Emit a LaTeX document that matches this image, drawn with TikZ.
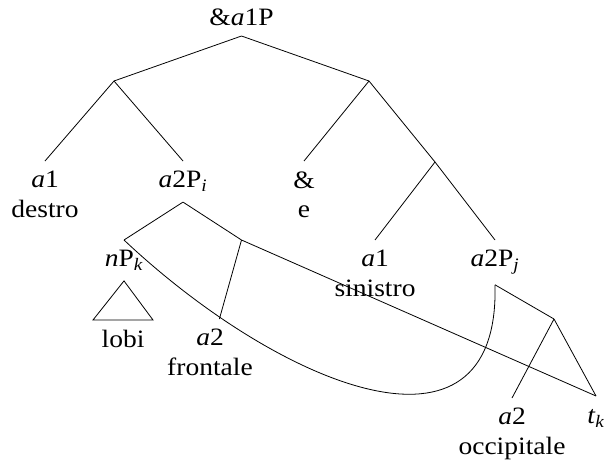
\documentclass[tikz,border=0pt]{standalone}
\usepackage{fontspec}
\setmainfont[FakeStretch=1.1]{Liberation Serif}
\newcommand{\idx}[1]{\textsubscript{\textit{#1}}}

\begin{document}
\begin{tikzpicture}
        [x=1pt,y=-1pt,line width=0.8pt,every node/.style={align=center,inner xsep=1pt,inner ysep=10pt,font=\fontsize{25}{29.5}\selectfont}]

        \useasboundingbox (0,0) rectangle (604,463);

        % branching points
        \node[anchor=south] (root) at (241.5,36) {\&\textit{a}1P};
        \coordinate (b1) at (114,81);
        \coordinate (b2) at (369,81);
        \coordinate (b3) at (435,162);
        \coordinate (c1) at (241.5,240);
        \coordinate (c2) at (554,319);

        % words
        \node[anchor=north] (destro) at (45,161) {\textit{a}1\\destro};
        \node[anchor=north] (ai) at (183,161) {\textit{a}2P\idx{i}};
        \node[anchor=north] (e) at (304,161) {\&\\e};
        \node[anchor=north] (sinistro) at (375,240) {\textit{a}1\\sinistro};
        \node[anchor=north] (aj) at (495,240) {\textit{a}2P\idx{j}};
        \node[anchor=north] (np) at (124,240) {\textit{n}P\idx{k}};
        \node[anchor=north] (lobi) at (123,320) {lobi};
        \node[anchor=north] (frontale) at (210,319) {\textit{a}2\\frontale};
        \node[anchor=north] (occipitale) at (512,398) {\textit{a}2\\occipitale};
        \node[anchor=north,text height=17pt] (tk) at (596,396) {\textit{t}\idx{k}};

        \draw (root.south) -- (b1);
        \draw (root.south) -- (b2);
        \draw (b1) -- (destro.north);
        \draw (b1) -- (ai.north);
        \draw (b2) -- (e.north);
        \draw (b2) -- (b3);
        \draw (b3) -- (sinistro.north);
        \draw (b3) -- (aj.north);
        \draw (ai.south) -- (np.north);
        \draw (ai.south) -- (c1);
        \draw (c1) -- (frontale);
        \draw (c1) -- (tk.north);
        \draw (aj.south) -- (c2);
        \draw (c2) -- (occipitale.north);
        \draw (c2) -- (tk.north);
        \draw (np.south) -- ([xshift=-30pt]lobi.north) -- ([xshift=30pt]lobi.north) -- cycle;

        % movement
        \draw (np.north) .. controls (278,385) and (500,478) .. (aj.south);

      \end{tikzpicture}
\end{document}
